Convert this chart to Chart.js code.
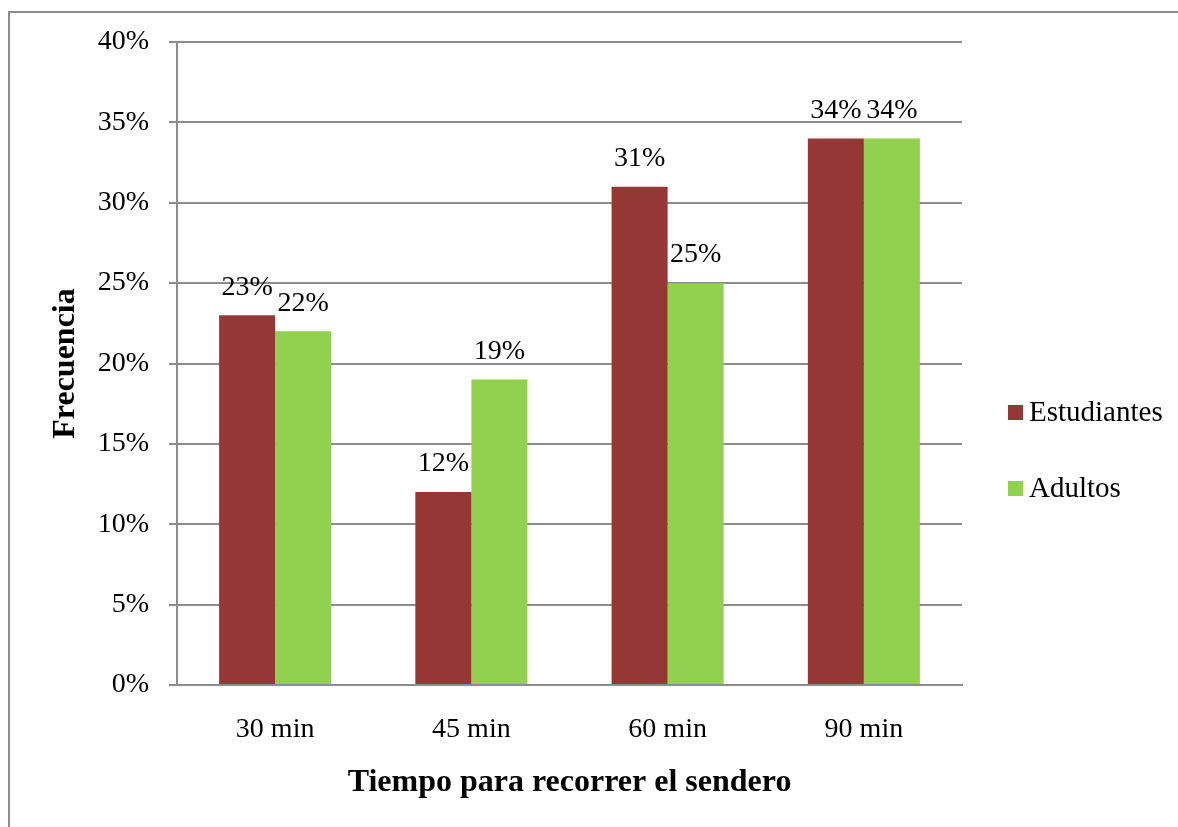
<!DOCTYPE html>
<html>
<head>
<meta charset="utf-8">
<script src="https://cdn.jsdelivr.net/npm/chart.js@4.4.1/dist/chart.umd.min.js"></script>
<style>
  html, body { margin: 0; padding: 0; background: #ffffff; }
  #wrap { width: 1178px; height: 827px; position: relative; }
</style>
</head>
<body>
<div id="wrap"><canvas id="c" width="1178" height="827"></canvas></div>
<script>
// Tiempo para recorrer el sendero – frecuencia por grupo
const categories = ['30 min', '45 min', '60 min', '90 min'];
const estudiantes = [23, 12, 31, 34];
const adultos = [22, 19, 25, 34];
const yTicks = [0, 5, 10, 15, 20, 25, 30, 35, 40];

const FONT = '"Liberation Serif", "Times New Roman", serif';
const GRID = '#8c8c8c';

// Frame around the whole chart (only left/top edges fall inside the canvas)
const framePlugin = {
  id: 'frame',
  beforeDraw(chart) {
    const ctx = chart.ctx;
    ctx.save();
    ctx.fillStyle = '#ffffff';
    ctx.fillRect(0, 0, chart.width, chart.height);
    ctx.strokeStyle = GRID;
    ctx.lineWidth = 2;
    ctx.strokeRect(9, 12, chart.width + 20, chart.height + 20);
    ctx.restore();
  }
};

// Value labels above each bar
const valueLabels = {
  id: 'valueLabels',
  afterDatasetsDraw(chart) {
    const ctx = chart.ctx;
    ctx.save();
    ctx.font = '28px ' + FONT;
    ctx.fillStyle = '#000000';
    ctx.textAlign = 'center';
    ctx.textBaseline = 'middle';
    chart.data.datasets.forEach((ds, i) => {
      chart.getDatasetMeta(i).data.forEach((bar, j) => {
        ctx.fillText(ds.data[j] + '%', bar.x, bar.y - 28);
      });
    });
    ctx.restore();
  }
};

// Legend on the right, stacked vertically
const sideLegend = {
  id: 'sideLegend',
  afterDraw(chart) {
    const ctx = chart.ctx;
    const area = chart.chartArea;
    const x = area.right + 46;
    const ys = [412, 488];
    ctx.save();
    ctx.font = '29px ' + FONT;
    ctx.textBaseline = 'middle';
    ctx.textAlign = 'left';
    chart.data.datasets.forEach((ds, i) => {
      ctx.fillStyle = ds.backgroundColor;
      ctx.fillRect(x, ys[i] - 7, 15, 15);
      ctx.fillStyle = '#000000';
      ctx.fillText(ds.label, x + 21, ys[i] + 1);
    });
    ctx.restore();
  }
};

new Chart(document.getElementById('c'), {
  type: 'bar',
  data: {
    labels: categories,
    datasets: [
      { label: 'Estudiantes', data: estudiantes, backgroundColor: '#953735', borderWidth: 0 },
      { label: 'Adultos', data: adultos, backgroundColor: '#92D050', borderWidth: 0 }
    ]
  },
  options: {
    responsive: false,
    animation: false,
    devicePixelRatio: 1,
    layout: { padding: { left: 10, right: 216, top: 42, bottom: 0 } },
    datasets: { bar: { categoryPercentage: 0.571, barPercentage: 1.0 } },
    plugins: {
      legend: { display: false },
      tooltip: { enabled: false }
    },
    scales: {
      x: {
        grid: { display: false, drawTicks: false },
        border: { display: true, color: GRID, width: 2 },
        ticks: { color: '#000000', font: { family: FONT, size: 28 }, padding: 28 },
        title: {
          display: true,
          text: 'Tiempo para recorrer el sendero',
          color: '#000000',
          font: { family: FONT, size: 32, weight: 'bold' },
          padding: { top: 0, bottom: 25 }
        },
        afterFit(scale) { scale.height = 827 - 685; }
      },
      y: {
        min: 0,
        max: 40,
        afterBuildTicks(scale) { scale.ticks = yTicks.map(v => ({ value: v })); },
        grid: { color: GRID, lineWidth: 2, tickLength: 8, drawTicks: true },
        border: { display: true, color: GRID, width: 2 },
        ticks: {
          color: '#000000',
          font: { family: FONT, size: 28 },
          padding: 20,
          callback: v => v + '%'
        },
        title: {
          display: true,
          text: 'Frecuencia',
          color: '#000000',
          font: { family: FONT, size: 32, weight: 'bold' },
          padding: { top: 37, bottom: 0 }
        },
        afterFit(scale) { scale.width = 177 - 10; }
      }
    }
  },
  plugins: [framePlugin, valueLabels, sideLegend]
});
</script>
</body>
</html>
